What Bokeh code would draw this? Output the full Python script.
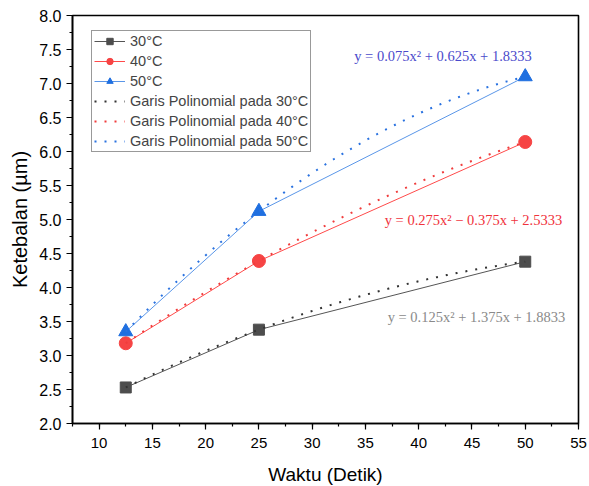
import numpy as np
from bokeh.plotting import figure
from bokeh.models import Range1d, SingleIntervalTicker, Legend, LegendItem, NumeralTickFormatter, Label
from bokeh.embed import file_html
from bokeh.resources import INLINE

waktu = [12.5, 25, 50]
t30 = [2.53, 3.38, 4.38]
t40 = [3.18, 4.39, 6.14]
t50 = [3.35, 5.12, 7.10]
series_names = ["30°C", "40°C", "50°C"]
poly_names = ["Garis Polinomial pada 30°C", "Garis Polinomial pada 40°C", "Garis Polinomial pada 50°C"]
equations = ["y = 0.125x² + 1.375x + 1.8833", "y = 0.275x² − 0.375x + 2.5333", "y = 0.075x² + 0.625x + 1.8333"]

p = figure(frame_width=506, frame_height=408, min_border_left=72, min_border_right=11,
           min_border_top=15, min_border_bottom=63, output_backend="svg", toolbar_location=None,
           x_range=Range1d(7.5, 55), y_range=Range1d(2.0, 8.0))
p.xgrid.visible = False
p.ygrid.visible = False
p.outline_line_color = "black"
p.outline_line_width = 1.6
p.background_fill_color = "white"
p.border_fill_color = "white"

for ax in (p.xaxis[0], p.yaxis[0]):
    ax.axis_line_width = 1.6
    ax.axis_line_color = "black"
    ax.major_tick_in = 0
    ax.major_tick_out = 6
    ax.minor_tick_in = 0
    ax.minor_tick_out = 3
    ax.major_tick_line_width = 1.2
    ax.minor_tick_line_width = 1.2
    ax.major_label_text_font = "Liberation Sans"
    ax.major_label_text_color = "black"
    ax.axis_label_text_font = "Liberation Sans"
    ax.axis_label_text_font_style = "normal"
    ax.axis_label_text_color = "black"

p.xaxis.major_label_text_font_size = "15px"
p.yaxis.major_label_text_font_size = "16px"
p.xaxis.axis_label_text_font_size = "19px"
p.yaxis.axis_label_text_font_size = "20px"
p.xaxis.ticker = SingleIntervalTicker(interval=5, num_minor_ticks=2)
p.yaxis.ticker = SingleIntervalTicker(interval=0.5, num_minor_ticks=2)
p.yaxis.formatter = NumeralTickFormatter(format="0.0")
p.xaxis.axis_label = "Waktu (Detik)"
p.yaxis.axis_label = "Ketebalan (µm)"
p.xaxis.major_label_standoff = 8
p.xaxis.axis_label_standoff = 13
p.yaxis.major_label_standoff = 5
p.yaxis.axis_label_standoff = 5

line_colors = ["#555555", "#ff4a4a", "#5a96e8"]
marker_colors = ["#4d4d4d", "#f64444", "#1f6fe0"]
dot_colors = ["#333333", "#f03c3c", "#2a72e0"]
eq_colors = ["#8a8a8a", "#f0323c", "#4a4acb"]
markers = ["square", "circle", "triangle"]
sizes = [11, 13, 14]
data = [t30, t40, t50]

xs = np.linspace(min(waktu), max(waktu), 200)
items_main = []
items_poly = []
for i in range(3):
    ln = p.line(waktu, data[i], line_color=line_colors[i], line_width=1)
    sc = p.scatter(waktu, data[i], marker=markers[i], size=sizes[i], fill_color=marker_colors[i],
                   line_color=marker_colors[i])
    items_main.append(LegendItem(label=series_names[i], renderers=[ln, sc]))
for i in range(3):
    coef = np.polyfit(waktu, data[i], 2)
    pl = p.line(xs, np.polyval(coef, xs), line_color=dot_colors[i], line_width=2, line_dash="2 8")
    items_poly.append(LegendItem(label=poly_names[i], renderers=[pl]))

legend = Legend(items=items_main + items_poly, location=(19, 271))
legend.label_text_font = "Liberation Sans"
legend.label_text_font_size = "14.5px"
legend.label_height = 16
legend.glyph_height = 16
legend.glyph_width = 31
legend.label_standoff = 5
legend.spacing = 4
legend.padding = 2
legend.margin = 0
legend.border_line_color = "#333333"
legend.border_line_width = 1
legend.background_fill_alpha = 1.0
p.add_layout(legend, "center")

eq_pos = [(45.42, 3.56), (45.14, 5.0), (42.28, 7.41)]
for i in range(3):
    p.add_layout(Label(x=eq_pos[i][0], y=eq_pos[i][1], text=equations[i], text_font="Liberation Serif",
                       text_font_size="14.5px", text_color=eq_colors[i], text_baseline="middle",
                       text_align="center"))

open("out.html", "w").write(file_html(p, INLINE))
